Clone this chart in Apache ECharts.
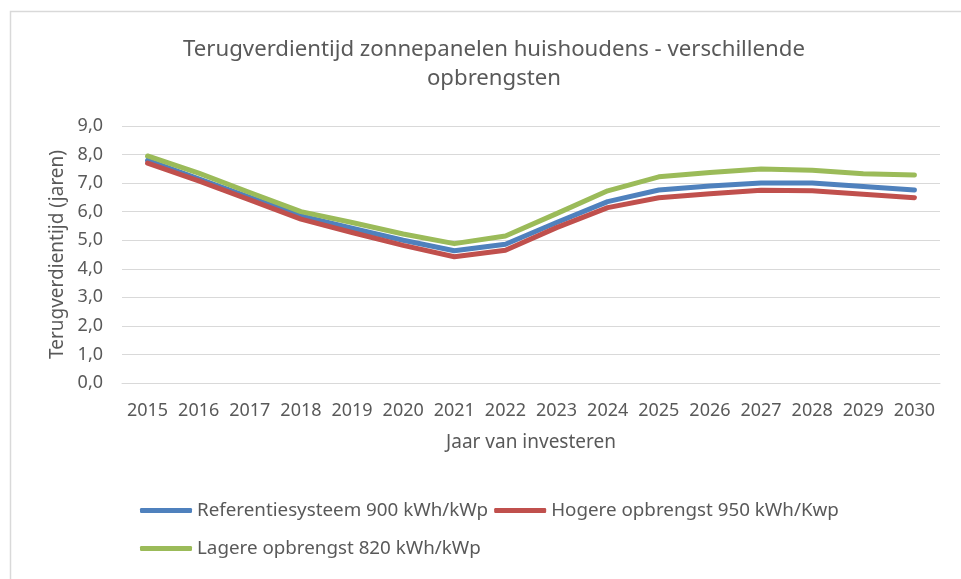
<!DOCTYPE html>
<html>
<head>
<meta charset="utf-8">
<script src="https://cdn.jsdelivr.net/npm/echarts@6/dist/echarts.min.js"></script>
<style>
  html, body { margin: 0; padding: 0; background: #fff; }
  #chart { width: 961px; height: 579px; }
</style>
</head>
<body>
<div id="chart"></div>
<script>
// jaren van investeren
const years = ["2015", "2016", "2017", "2018", "2019", "2020", "2021", "2022",
  "2023", "2024", "2025", "2026", "2027", "2028", "2029", "2030"];

// terugverdientijd in jaren
const referentie = [7.80, 7.15, 6.50, 5.85, 5.42, 5.00, 4.63, 4.86, 5.62, 6.35, 6.76, 6.90, 7.00, 7.00, 6.88, 6.76];
const hoger = [7.70, 7.08, 6.41, 5.74, 5.27, 4.82, 4.42, 4.65, 5.44, 6.14, 6.49, 6.63, 6.75, 6.73, 6.61, 6.49];
const lager = [7.95, 7.35, 6.67, 6.00, 5.62, 5.22, 4.88, 5.15, 5.93, 6.73, 7.22, 7.37, 7.49, 7.45, 7.33, 7.28];

const names = [
  "Referentiesysteem 900 kWh/kWp",
  "Hogere opbrengst 950 kWh/Kwp",
  "Lagere opbrengst 820 kWh/kWp"
];

const font = "'Noto Sans', sans-serif";
const textColor = "#595959";

const chart = echarts.init(document.getElementById("chart"));

function lineSeries(name, data, color) {
  return {
    name: name,
    type: "line",
    data: data,
    symbol: "none",
    color: color,
    lineStyle: { width: 5, color: color, cap: "round", join: "round" }
  };
}

const legendBase = {
  left: 135,
  icon: "roundRect",
  itemWidth: 52,
  itemHeight: 5,
  itemGap: 6,
  textStyle: { fontFamily: font, fontSize: 18.8, color: textColor }
};

chart.setOption({
  backgroundColor: "#fff",
  animation: false,
  textStyle: { fontFamily: font, color: textColor },
  graphic: [{
    type: "rect",
    left: 8,
    top: 9,
    shape: { width: 1200, height: 800 },
    style: { fill: "none", stroke: "#d9d9d9", lineWidth: 1.5 },
    silent: true
  }],
  title: {
    text: "Terugverdientijd zonnepanelen huishoudens - verschillende\nopbrengsten",
    left: 489,
    top: 30,
    textAlign: "center",
    textStyle: {
      fontFamily: font,
      fontSize: 22.2,
      fontWeight: "normal",
      color: textColor,
      lineHeight: 29
    }
  },
  legend: [
    Object.assign({}, legendBase, { data: [names[0], names[1]], top: 496 }),
    Object.assign({}, legendBase, { data: [names[2]], top: 534 })
  ],
  grid: {
    left: 122,
    right: 21,
    top: 126,
    bottom: 196
  },
  xAxis: {
    type: "category",
    data: years,
    boundaryGap: true,
    name: "Jaar van investeren",
    nameLocation: "middle",
    nameGap: 50,
    nameTextStyle: { fontFamily: font, fontSize: 19, color: textColor },
    axisLine: { show: true, lineStyle: { color: "#d9d9d9", width: 1 } },
    axisTick: { show: false },
    axisLabel: { interval: 0, fontFamily: font, fontSize: 18, color: textColor, margin: 19 }
  },
  yAxis: {
    type: "value",
    min: 0,
    max: 9,
    interval: 1,
    name: "Terugverdientijd (jaren)",
    nameLocation: "middle",
    nameGap: 54,
    nameTextStyle: { fontFamily: font, fontSize: 19, color: textColor },
    axisLine: { show: false },
    axisTick: { show: false },
    splitLine: { lineStyle: { color: "#d9d9d9", width: 1 } },
    axisLabel: {
      fontFamily: font,
      fontSize: 18,
      color: textColor,
      margin: 19,
      formatter: function (v) { return v.toFixed(1).replace(".", ","); }
    }
  },
  series: [
    lineSeries(names[0], referentie, "#4F81BD"),
    lineSeries(names[1], hoger, "#C0504D"),
    lineSeries(names[2], lager, "#9BBB59")
  ]
});

window.addEventListener("resize", () => {
  chart.resize();
});
</script>
</body>
</html>
